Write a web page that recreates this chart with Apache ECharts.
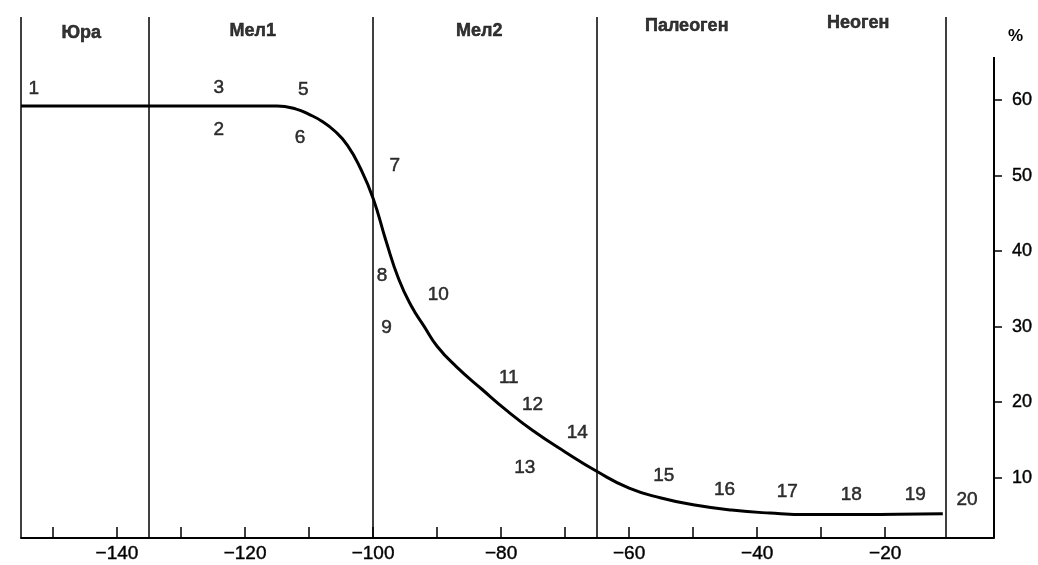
<!DOCTYPE html>
<html>
<head>
<meta charset="utf-8">
<script src="https://cdn.jsdelivr.net/npm/echarts@6/dist/echarts.min.js"></script>
<style>
  html, body { margin: 0; padding: 0; background: #fff; }
  #chart { width: 1038px; height: 565px; }
</style>
</head>
<body>
<div id="chart"></div>
<script>
// Geological periods: names, label anchors (Ma, %) and boundaries (Ma)
const periodNames  = ['Юра', 'Мел1', 'Мел2', 'Палеоген', 'Неоген'];
const periodLabelX = [-145.6, -118.8, -83.4, -51.0, -24.2];
const periodLabelY = [68.9, 69.1, 69.1, 69.8, 70.2];
const periodBounds = [-155, -135, -100, -65, -10.5];

// Curve: age (Ma) and share (%)
const ageMa    = [-155, -135, -120, -115, -112, -110, -108, -106, -104, -102, -100, -98, -96, -94, -92, -90,
                  -87, -83, -79, -75, -70, -65, -60, -55, -50, -44, -38, -32, -25, -18, -11];
const sharePct = [59.2, 59.2, 59.2, 59.2, 58.8, 58.1, 57.2, 55.9, 54.0, 51.0, 47.0, 41.4, 36.3, 32.7, 30.0, 27.4,
                  24.7, 21.7, 18.8, 16.2, 13.4, 10.8, 8.6, 7.3, 6.4, 5.7, 5.3, 5.1, 5.1, 5.15, 5.2];

// Numbered points along the curve
const pointIds = ['1', '2', '3', '5', '6', '7', '8', '9', '10', '11', '12', '13', '14',
                  '15', '16', '17', '18', '19', '20'];
const pointX   = [-153.0, -124.1, -124.1, -110.9, -111.4, -96.6, -98.6, -97.9, -89.8, -78.8, -75.1,
                  -76.3, -68.1, -54.6, -45.1, -35.3, -25.3, -15.3, -7.2];
const pointY   = [61.5, 56.1, 61.6, 61.4, 55.0, 51.3, 36.7, 29.8, 34.2, 23.2, 19.7,
                  11.3, 15.9, 10.3, 8.4, 8.1, 7.7, 7.7, 7.0];

// Axis ticks and labels
const xTickValues  = [-150, -140, -130, -120, -110, -100, -90, -80, -70, -60, -50, -40, -30, -20];
const xLabelValues = [-140, -120, -100, -80, -60, -40, -20];
const yLabelValues = [10, 20, 30, 40, 50, 60];
const yAxisSpan    = [2, 65.7];

const narrow = '"Liberation Sans Narrow", "Liberation Sans", Arial, sans-serif';
const sans   = '"Liberation Sans", Arial, sans-serif';

const curveData  = ageMa.map((a, i) => [a, sharePct[i]]);
const pointData  = pointIds.map((id, i) => ({ name: id, value: [pointX[i], pointY[i]] }));
const periodData = periodNames.map((n, i) => ({ name: n, value: [periodLabelX[i], periodLabelY[i]] }));

const xMax = -3;

const chart = echarts.init(document.getElementById('chart'), null, { renderer: 'canvas' });
chart.setOption({
  animation: false,
  backgroundColor: '#fff',
  grid: { left: 21, right: 44, top: 17, bottom: 27 },
  xAxis: {
    type: 'value',
    min: -155,
    max: xMax,
    splitLine: { show: false },
    axisLine: { onZero: false, lineStyle: { color: '#000', width: 2 } },
    axisTick: {
      inside: true, length: 11, customValues: xTickValues,
      lineStyle: { color: '#000', width: 1.5 }
    },
    axisLabel: {
      customValues: xLabelValues,
      margin: 6,
      color: '#000',
      fontFamily: narrow,
      fontSize: 19,
      textBorderColor: '#000',
      textBorderWidth: 0.4,
      formatter: v => '\u2212' + Math.abs(v)
    }
  },
  yAxis: {
    type: 'value',
    position: 'right',
    min: 2,
    max: 71,
    splitLine: { show: false },
    axisLine: { show: false },
    axisTick: {
      show: true, length: 8, customValues: yLabelValues,
      lineStyle: { color: '#000', width: 1.5 }
    },
    axisLabel: {
      customValues: yLabelValues,
      margin: 18,
      color: '#000',
      fontFamily: narrow,
      fontSize: 18,
      textBorderColor: '#000',
      textBorderWidth: 0.4
    }
  },
  graphic: [{
    type: 'text',
    left: 1008,
    top: 28,
    style: { text: '%', fill: '#000', font: 'bold 17px ' + sans }
  }],
  series: [
    {
      type: 'line',
      data: curveData,
      smooth: 0.5,
      symbol: 'none',
      silent: true,
      lineStyle: { color: '#000', width: 3 },
      markLine: {
        silent: true,
        symbol: 'none',
        label: { show: false },
        lineStyle: { color: '#000', width: 1.5, type: 'solid' },
        data: periodBounds.map(b => ({ xAxis: b })).concat([
          [
            { coord: [xMax, yAxisSpan[0]], lineStyle: { width: 2 } },
            { coord: [xMax, yAxisSpan[1]] }
          ]
        ])
      }
    },
    {
      type: 'scatter',
      data: pointData,
      symbolSize: 0,
      silent: true,
      label: {
        show: true,
        position: 'inside',
        formatter: p => p.name,
        color: '#000',
        fontFamily: narrow,
        fontSize: 19,
        textBorderColor: '#000',
        textBorderWidth: 0.5
      }
    },
    {
      type: 'scatter',
      data: periodData,
      symbolSize: 0,
      silent: true,
      label: {
        show: true,
        position: 'inside',
        formatter: p => p.name,
        color: '#000',
        fontFamily: sans,
        fontWeight: 'bold',
        fontSize: 18,
        textBorderColor: '#000',
        textBorderWidth: 0.5
      }
    }
  ]
});
</script>
</body>
</html>
